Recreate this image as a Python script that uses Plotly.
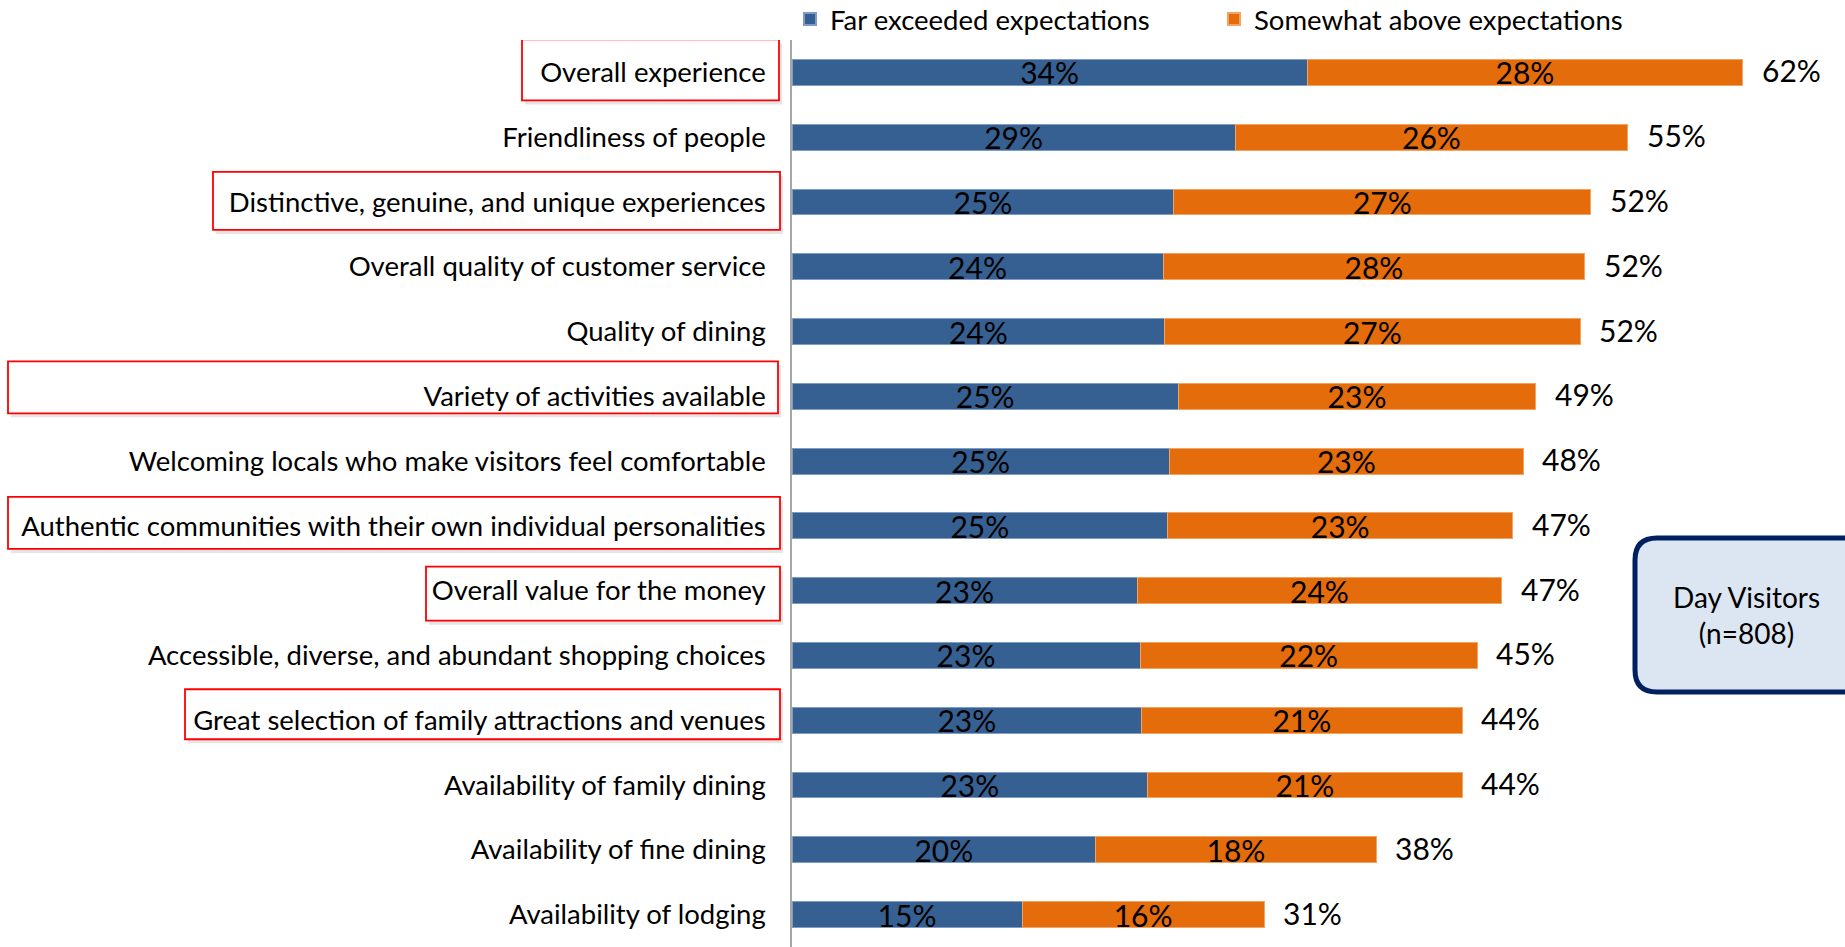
import plotly.graph_objects as go

categories = [
    "Overall experience",
    "Friendliness of people",
    "Distinctive, genuine, and unique experiences",
    "Overall quality of customer service",
    "Quality of dining",
    "Variety of activities available",
    "Welcoming locals who make visitors feel comfortable",
    "Authentic communities with their own individual personalities",
    "Overall value for the money",
    "Accessible, diverse, and abundant shopping choices",
    "Great selection of family attractions and venues",
    "Availability of family dining",
    "Availability of fine dining",
    "Availability of lodging",
]
far_exceeded = [33.6, 28.9, 24.9, 24.2, 24.3, 25.2, 24.6, 24.5, 22.5, 22.7, 22.8, 23.2, 19.8, 15.0]
somewhat_above = [28.4, 25.6, 27.2, 27.5, 27.1, 23.3, 23.1, 22.5, 23.8, 22.0, 20.9, 20.5, 18.3, 15.8]
far_labels = ["34%", "29%", "25%", "24%", "24%", "25%", "25%", "25%", "23%", "23%", "23%", "23%", "20%", "15%"]
above_labels = ["28%", "26%", "27%", "28%", "27%", "23%", "23%", "23%", "24%", "22%", "21%", "21%", "18%", "16%"]
total_labels = ["62%", "55%", "52%", "52%", "52%", "49%", "48%", "47%", "47%", "45%", "44%", "44%", "38%", "31%"]
series_names = ["Far exceeded expectations", "Somewhat above expectations"]
box_text = "Day Visitors<br>(n=808)"

# highlighted labels: (left px, right px, top px, bottom px) relative to axis line / row centre
highlight_boxes = {
    "Overall experience": (-270, -13, 33, -28),
    "Distinctive, genuine, and unique experiences": (-579, -12, 30, -28),
    "Variety of activities available": (-784, -14, 35, -17),
    "Authentic communities with their own individual personalities": (-784, -12, 29, -23),
    "Overall value for the money": (-366, -12, 24, -30),
    "Great selection of family attractions and venues": (-607, -12, 31, -19),
}

FONT = "Lato"
FS = 27.5
FS_DATA = 30
W_FIG, H_FIG = 1845, 947
M_L, M_R, M_T, M_B = 792, 41, 40, 0
PW = W_FIG - M_L - M_R
PH = H_FIG - M_T - M_B

def px_x(px):
    return (px - M_L) / PW

def px_y(py):
    return (H_FIG - M_B - py) / PH

BLUE = "#376092"
ORANGE = "#E46C0A"

fig = go.Figure()
fig.add_trace(go.Bar(
    y=categories, x=far_exceeded, orientation="h", name=series_names[0],
    marker=dict(color=BLUE, line=dict(color="#7F9CC4", width=1)),
    text=far_labels, textposition="inside", insidetextanchor="middle",
    constraintext="none", textangle=0,
    textfont=dict(family=FONT, size=FS_DATA, color="black"),
))
fig.add_trace(go.Bar(
    y=categories, x=somewhat_above, orientation="h", name=series_names[1],
    marker=dict(color=ORANGE, line=dict(color="#F4A460", width=1)),
    text=above_labels, textposition="inside", insidetextanchor="middle",
    constraintext="none", textangle=0,
    textfont=dict(family=FONT, size=FS_DATA, color="black"),
))

for cat, f, s, lab in zip(categories, far_exceeded, somewhat_above, total_labels):
    fig.add_annotation(
        x=f + s, y=cat, xref="x", yref="y", text=lab, showarrow=False,
        xanchor="left", xshift=17, yshift=2,
        font=dict(family=FONT, size=FS_DATA, color="black"),
    )

shapes = []
for cat, (x0, x1, top, bot) in highlight_boxes.items():
    shapes.append(dict(
        type="rect", xref="paper", yref="y", xsizemode="pixel", ysizemode="pixel",
        xanchor=0, yanchor=cat, x0=x0 + 3, x1=x1 + 3, y0=bot - 4, y1=top - 4,
        fillcolor="rgba(0,0,0,0.10)", line=dict(width=0), layer="below",
    ))
    shapes.append(dict(
        type="rect", xref="paper", yref="y", xsizemode="pixel", ysizemode="pixel",
        xanchor=0, yanchor=cat, x0=x0, x1=x1, y0=bot, y1=top,
        fillcolor="white", line=dict(color="#FF0000", width=1.8), layer="below",
    ))

# rounded "Day Visitors" box
bx0, bx1, by0, by1, r = -105, 160, -77, 77, 22
path = (f"M {bx0 + r} {by1} L {bx1 - r} {by1} Q {bx1} {by1} {bx1} {by1 - r} "
        f"L {bx1} {by0 + r} Q {bx1} {by0} {bx1 - r} {by0} L {bx0 + r} {by0} "
        f"Q {bx0} {by0} {bx0} {by0 + r} L {bx0} {by1 - r} Q {bx0} {by1} {bx0 + r} {by1} Z")
shapes.append(dict(
    type="path", xref="paper", yref="paper", xsizemode="pixel", ysizemode="pixel",
    xanchor=px_x(1740), yanchor=px_y(615), path=path,
    fillcolor="#DCE6F2", line=dict(color="#002060", width=5), layer="above",
))
fig.add_annotation(
    x=px_x(1746), y=px_y(615), xref="paper", yref="paper", text=box_text,
    showarrow=False, xanchor="center", yanchor="middle",
    font=dict(family=FONT, size=28, color="black"),
)

fig.update_layout(
    width=W_FIG, height=H_FIG,
    margin=dict(l=M_L, r=M_R, t=M_T, b=M_B, autoexpand=False),
    barmode="stack", bargap=0.6,
    paper_bgcolor="white", plot_bgcolor="white",
    font=dict(family=FONT, color="black"),
    shapes=shapes,
    showlegend=True,
    legend=dict(
        orientation="h", x=px_x(790), y=px_y(19), xanchor="left", yanchor="middle",
        font=dict(family=FONT, size=FS, color="black"),
        itemsizing="constant", entrywidth=379, entrywidthmode="pixels",
        traceorder="normal", bgcolor="rgba(0,0,0,0)",
    ),
    xaxis=dict(range=[0, 66], visible=False, fixedrange=True, automargin=False),
    yaxis=dict(
        autorange="reversed", showline=True, linecolor="#A6A6A6", linewidth=1.5,
        ticks="", showgrid=False, ticklabelstandoff=19, automargin=False,
        tickfont=dict(family=FONT, size=FS, color="black"),
    ),
)

fig.write_html(
    "out.html",
    config={"displayModeBar": False},
    post_script="document.body.style.margin='0';document.body.style.overflow='hidden';",
)
